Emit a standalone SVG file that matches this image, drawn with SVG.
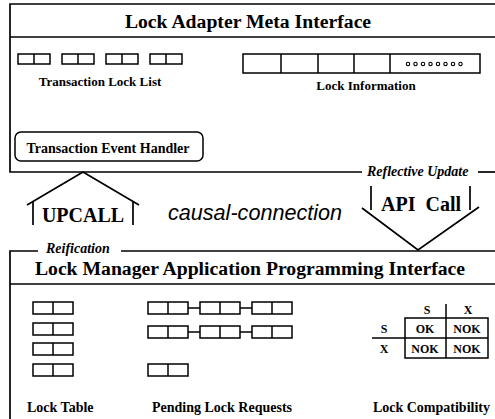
<svg xmlns="http://www.w3.org/2000/svg" width="495" height="419" viewBox="0 0 495 419">
<style>
.ln{stroke:#000;stroke-width:1.7;fill:none}
.bx{stroke:#000;stroke-width:1.5;fill:none}
.thin{stroke:#000;stroke-width:1.1;fill:none}
.t{font-family:"Liberation Serif","Times New Roman",serif;font-weight:bold;fill:#000}
.ti{font-family:"Liberation Serif","Times New Roman",serif;font-weight:bold;font-style:italic;fill:#000}
.h{font-size:19.7px}
.s13{font-size:13px}
.s14{font-size:14px}
.mid{text-anchor:middle}
</style>
<defs>
<g id="pair"><rect class="bx" x="0" y="0" width="40" height="12"/><line class="bx" x1="20" y1="0" x2="20" y2="12"/></g>
<g id="tpair"><rect class="bx" x="0" y="0" width="32" height="10"/><line class="bx" x1="16" y1="0" x2="16" y2="10"/></g>
</defs>
<rect width="495" height="419" fill="#fff"/>

<g id="lock-adapter-meta-interface">
<path class="ln" d="M495 4 H10 V172 H362"/>
<path class="ln" d="M478 172 H495"/>
<path class="ln" d="M10 37 H495"/>
<text class="t h mid" x="248" y="28">Lock Adapter Meta Interface</text>
</g>

<g id="transaction-lock-list">
<use href="#tpair" x="18" y="54"/>
<use href="#tpair" x="62" y="54"/>
<use href="#tpair" x="106" y="54"/>
<use href="#tpair" x="150" y="54"/>
<text class="t s13 mid" x="100" y="86">Transaction Lock List</text>
</g>

<g id="lock-information">
<rect class="bx" x="243" y="54" width="237" height="19"/>
<path class="bx" d="M281 54 V73 M318 54 V73 M354 54 V73 M390 54 V73"/>
<g class="thin" stroke-width="0.9">
<circle cx="408" cy="64" r="1.7"/><circle cx="415.5" cy="64" r="1.7"/><circle cx="423" cy="64" r="1.7"/><circle cx="430.5" cy="64" r="1.7"/>
<circle cx="438" cy="64" r="1.7"/><circle cx="445.5" cy="64" r="1.7"/><circle cx="453" cy="64" r="1.7"/><circle cx="460.5" cy="64" r="1.7"/>
</g>
<text class="t s13 mid" x="366" y="90">Lock Information</text>
</g>

<g id="transaction-event-handler">
<rect class="bx" x="15" y="132" width="188" height="29" rx="6"/>
<text class="t mid" font-size="14px" x="108" y="153">Transaction Event Handler</text>
</g>

<g id="connectors">
<g id="upcall">
<path class="ln" d="M27 205 L83 172 L139 205"/>
<path class="ln" d="M33 201 V225 M133 201 V225"/>
<text class="t mid" font-size="20px" x="83" y="222">UPCALL</text>
</g>
<g id="api-call">
<path class="ln" d="M362 208 L418 250 L479 207"/>
<path class="ln" d="M371 186 V210 M470 186 V210"/>
<text class="t mid" font-size="20px" x="421" y="211" xml:space="preserve">API  Call</text>
</g>
<text x="168" y="220" font-family="'Liberation Sans',Arial,sans-serif" font-style="italic" font-size="21.6px" fill="#000">causal-connection</text>
<text class="ti s14" x="367" y="176">Reflective Update</text>
<text class="ti s14" x="46" y="253">Reification</text>
</g>

<g id="lock-manager-api">
<path class="ln" d="M38 251 H10 V419"/>
<path class="ln" d="M121 251 H495"/>
<path class="ln" d="M10 284 H495"/>
<text class="t h mid" x="250" y="275">Lock Manager Application Programming Interface</text>
</g>

<g id="lock-table">
<use href="#pair" x="33" y="302"/>
<use href="#pair" x="33" y="323"/>
<use href="#pair" x="33" y="343"/>
<use href="#pair" x="33" y="364"/>
<text class="t s14" x="27" y="412">Lock Table</text>
</g>

<g id="pending-lock-requests">
<use href="#pair" x="148" y="302"/>
<use href="#pair" x="200" y="302"/>
<use href="#pair" x="252" y="302"/>
<path class="bx" d="M188 308 H200 M240 308 H252"/>
<use href="#pair" x="148" y="326"/>
<use href="#pair" x="200" y="326"/>
<use href="#pair" x="252" y="326"/>
<path class="bx" d="M188 332 H200 M240 332 H252"/>
<use href="#pair" x="148" y="364"/>
<text class="t s14" x="152" y="412">Pending Lock Requests</text>
</g>

<g id="lock-compatibility">
<rect class="bx" x="405" y="318" width="83" height="40"/>
<path class="bx" d="M446 304 V358 M372 338 H488"/>
<text class="t mid" font-size="12px" x="427" y="314">S</text>
<text class="t mid" font-size="12px" x="468" y="314">X</text>
<text class="t mid" font-size="12px" x="384" y="333">S</text>
<text class="t mid" font-size="12px" x="384" y="353">X</text>
<text class="t mid" font-size="12px" x="425" y="333">OK</text>
<text class="t mid" font-size="12px" x="467" y="333">NOK</text>
<text class="t mid" font-size="12px" x="425" y="353">NOK</text>
<text class="t mid" font-size="12px" x="467" y="353">NOK</text>
<text class="t s14" x="490" y="412" text-anchor="end">Lock Compatibility</text>
</g>
</svg>
